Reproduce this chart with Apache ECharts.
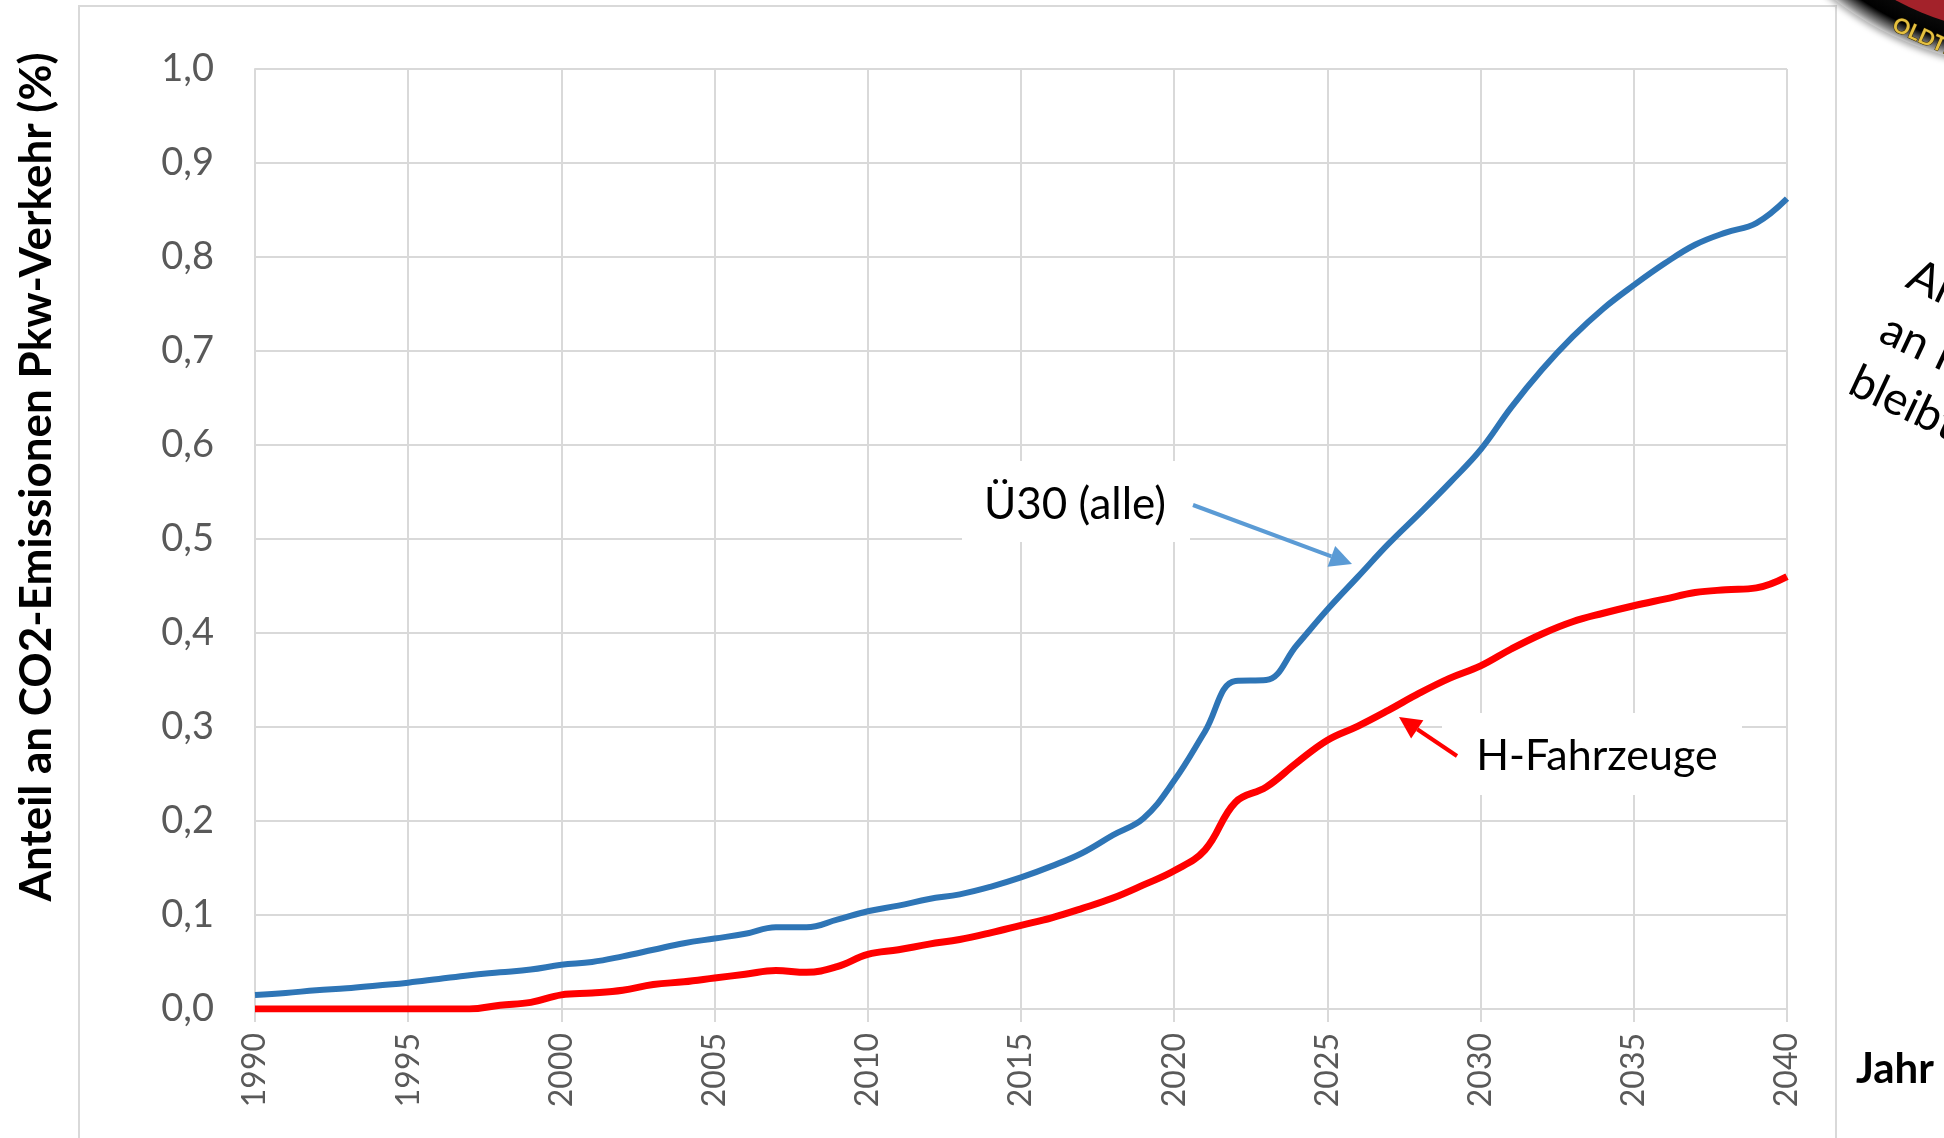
<!DOCTYPE html>
<html>
<head>
<meta charset="utf-8">
<script src="https://cdn.jsdelivr.net/npm/echarts@6/dist/echarts.min.js"></script>
<style>
  html, body { margin: 0; padding: 0; background: #fff; }
  #chart { width: 1944px; height: 1138px; }
</style>
</head>
<body>
<div id="chart"></div>
<script>
// Jahre 1990..2040
const years = [
  1990, 1991, 1992, 1993, 1994, 1995, 1996, 1997, 1998, 1999,
  2000, 2001, 2002, 2003, 2004, 2005, 2006, 2007, 2008, 2009,
  2010, 2011, 2012, 2013, 2014, 2015, 2016, 2017, 2018, 2019,
  2020, 2021, 2022, 2023, 2024, 2025, 2026, 2027, 2028, 2029,
  2030, 2031, 2032, 2033, 2034, 2035, 2036, 2037, 2038, 2039, 2040,
];
// Ü30 (alle)
const ue30 = [
  0.015, 0.017, 0.020, 0.022, 0.025, 0.028, 0.032, 0.036, 0.039, 0.042,
  0.047, 0.050, 0.056, 0.063, 0.070, 0.075, 0.080, 0.087, 0.087, 0.095,
  0.104, 0.110, 0.117, 0.122, 0.130, 0.140, 0.152, 0.166, 0.185, 0.203,
  0.243, 0.295, 0.349, 0.350, 0.387, 0.425, 0.460, 0.495, 0.527, 0.560,
  0.595, 0.640, 0.680, 0.715, 0.745, 0.770, 0.793, 0.813, 0.826, 0.836, 0.862,
];
// H-Fahrzeuge
const hFahrzeuge = [
  0.000, 0.000, 0.000, 0.000, 0.000, 0.000, 0.000, 0.000, 0.004, 0.007,
  0.015, 0.017, 0.020, 0.026, 0.029, 0.033, 0.037, 0.041, 0.039, 0.045,
  0.058, 0.063, 0.069, 0.074, 0.081, 0.089, 0.097, 0.107, 0.118, 0.132,
  0.147, 0.169, 0.220, 0.236, 0.262, 0.286, 0.301, 0.318, 0.336, 0.352,
  0.365, 0.383, 0.399, 0.412, 0.421, 0.429, 0.436, 0.443, 0.446, 0.448, 0.460,
];
const yTicks = [0, 0.1, 0.2, 0.3, 0.4, 0.5, 0.6, 0.7, 0.8, 0.9, 1.0];

const gridColor = '#d9d9d9';
const labelColor = '#595959';
const font = 'Lato, "Open Sans", sans-serif';

const chart = echarts.init(document.getElementById('chart'), null, { renderer: 'canvas' });

function arrow(x1, y1, x2, y2, color, width, head) {
  const a = Math.atan2(y2 - y1, x2 - x1);
  const bx = x2 - head * Math.cos(a);
  const by = y2 - head * Math.sin(a);
  const w = head * 0.5;
  return [
    {
      type: 'line', z: 20,
      shape: { x1, y1, x2: bx, y2: by },
      style: { stroke: color, lineWidth: width },
    },
    {
      type: 'polygon', z: 20,
      shape: {
        points: [
          [x2, y2],
          [bx + w * Math.sin(a), by - w * Math.cos(a)],
          [bx - w * Math.sin(a), by + w * Math.cos(a)],
        ],
      },
      style: { fill: color },
    },
  ];
}

chart.setOption({
  animation: false,
  backgroundColor: '#fff',
  grid: { left: 255, right: 157, top: 69, bottom: 129 },
  xAxis: {
    type: 'value',
    min: 1990,
    max: 2040,
    interval: 5,
    axisLine: { show: true, lineStyle: { color: gridColor, width: 2 } },
    axisTick: { show: true, length: 13, lineStyle: { color: gridColor, width: 2 } },
    splitLine: { show: true, lineStyle: { color: gridColor, width: 2 } },
    axisLabel: {
      rotate: 90,
      margin: 24,
      color: labelColor,
      fontFamily: font,
      fontSize: 32,
      formatter: (v) => String(v),
    },
  },
  yAxis: {
    type: 'value',
    min: 0,
    max: 1,
    interval: 0.1,
    axisLine: { show: true, lineStyle: { color: gridColor, width: 2 } },
    axisTick: { show: false },
    splitLine: { show: true, lineStyle: { color: gridColor, width: 2 } },
    axisLabel: {
      margin: 41,
      color: labelColor,
      fontFamily: font,
      fontSize: 38,
      formatter: (v) => {
        const t = yTicks.find((k) => Math.abs(k - v) < 1e-6);
        return (t !== undefined ? t : v).toFixed(1).replace('.', ',');
      },
    },
  },
  series: [
    {
      name: 'Ü30 (alle)',
      type: 'line',
      data: years.map((y, i) => [y, ue30[i]]),
      smooth: 0.4,
      showSymbol: false,
      lineStyle: { color: '#2E75B6', width: 6 },
      z: 3,
    },
    {
      name: 'H-Fahrzeuge',
      type: 'line',
      data: years.map((y, i) => [y, hFahrzeuge[i]]),
      smooth: 0.4,
      showSymbol: false,
      lineStyle: { color: '#FF0000', width: 7 },
      z: 4,
    },
  ],
  graphic: [
    // Rahmen des Diagrammbereichs
    {
      type: 'rect', z: -1, silent: true,
      shape: { x: 79, y: 6, width: 1757, height: 1200 },
      style: { fill: 'none', stroke: gridColor, lineWidth: 2 },
    },
    // Achsentitel
    {
      type: 'text', z: 10,
      x: 37, y: 477, rotation: Math.PI / 2,
      style: {
        text: 'Anteil an CO2-Emissionen Pkw-Verkehr (%)',
        font: 'bold 44px ' + font,
        fill: '#000', align: 'center', verticalAlign: 'middle',
      },
    },
    {
      type: 'text', z: 10,
      x: 1856, y: 1069,
      style: {
        text: 'Jahr',
        font: 'bold 42px ' + font,
        fill: '#000', align: 'left', verticalAlign: 'middle',
      },
    },
    // Beschriftung Ü30
    {
      type: 'rect', z: 1,
      shape: { x: 962, y: 461, width: 228, height: 81 },
      style: { fill: '#fff' },
    },
    {
      type: 'text', z: 10,
      x: 1075, y: 505,
      style: {
        text: 'Ü30 (alle)',
        font: '44px ' + font,
        fill: '#000', align: 'center', verticalAlign: 'middle',
      },
    },
    ...arrow(1193, 505, 1352, 564, '#5B9BD5', 4, 22),
    // Beschriftung H-Fahrzeuge
    {
      type: 'rect', z: 1,
      shape: { x: 1442, y: 713, width: 300, height: 82 },
      style: { fill: '#fff' },
    },
    {
      type: 'text', z: 10,
      x: 1597, y: 756,
      style: {
        text: 'H-Fahrzeuge',
        font: '43px ' + font,
        fill: '#000', align: 'center', verticalAlign: 'middle',
      },
    },
    ...arrow(1457, 756, 1399, 717, '#FF0000', 4, 22),
    // Logo (angeschnitten)
    {
      type: 'circle', z: 5,
      shape: { cx: 2030, cy: -250, r: 317 },
      style: {
        fill: {
          type: 'radial', x: 0.5, y: 0.5, r: 0.5,
          colorStops: [
            { offset: 0.85, color: '#111' },
            { offset: 0.95, color: '#000' },
            { offset: 0.985, color: '#888' },
            { offset: 1, color: '#ccc' },
          ],
        },
        shadowBlur: 6, shadowColor: 'rgba(0,0,0,0.35)', shadowOffsetY: 3,
      },
    },
    {
      type: 'circle', z: 6,
      shape: { cx: 2030, cy: -250, r: 284 },
      style: { fill: '#A3222A' },
    },
    {
      type: 'text', z: 7,
      x: 1898, y: 14, rotation: -0.42,
      style: {
        text: 'OLDTIMER',
        font: 'bold 21px ' + font,
        fill: '#E5C040', stroke: '#3d2e00', lineWidth: 1,
        align: 'left', verticalAlign: 'top',
      },
    },
    // angeschnittener Text rechts
    {
      type: 'text', z: 10,
      x: 1920, y: 252, rotation: -0.44,
      style: { text: 'Anteil', font: '46px ' + font, fill: '#000', align: 'left', verticalAlign: 'top' },
    },
    {
      type: 'text', z: 10,
      x: 1893, y: 306, rotation: -0.44,
      style: { text: 'an Pkw', font: '46px ' + font, fill: '#000', align: 'left', verticalAlign: 'top' },
    },
    {
      type: 'text', z: 10,
      x: 1862, y: 358, rotation: -0.44,
      style: { text: 'bleibt', font: '46px ' + font, fill: '#000', align: 'left', verticalAlign: 'top' },
    },
  ],
});
</script>
</body>
</html>
